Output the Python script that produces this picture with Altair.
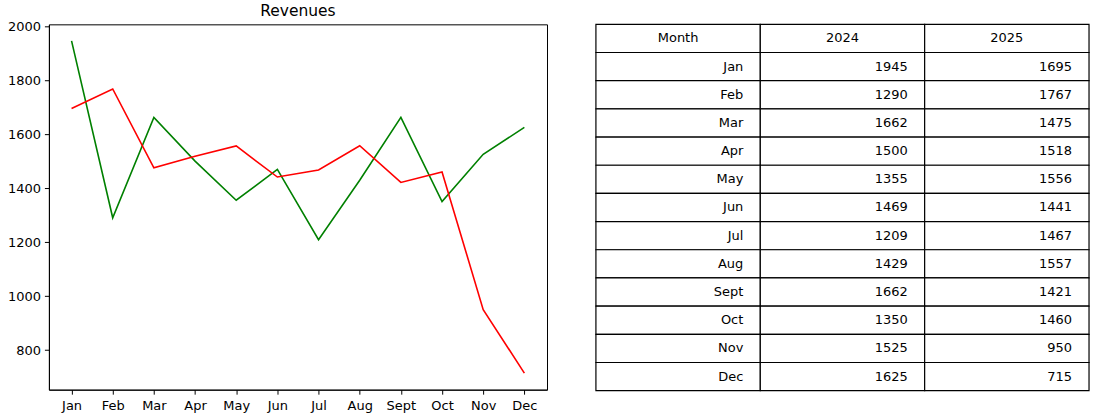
import altair as alt
import pandas as pd

months = ["Jan", "Feb", "Mar", "Apr", "May", "Jun", "Jul", "Aug", "Sept", "Oct", "Nov", "Dec"]
rev_2024 = [1945, 1290, 1662, 1500, 1355, 1469, 1209, 1429, 1662, 1350, 1525, 1625]
rev_2025 = [1695, 1767, 1475, 1518, 1556, 1441, 1467, 1557, 1421, 1460, 950, 715]
years = ["2024", "2025"]
headers = ["Month", "2024", "2025"]
series_colors = ["green", "red"]
y_ticks = [800, 1000, 1200, 1400, 1600, 1800, 2000]

FONT = "DejaVu Sans"

line_df = pd.DataFrame({
    "month": months * 2,
    "revenue": rev_2024 + rev_2025,
    "year": [years[0]] * 12 + [years[1]] * 12,
})

line = alt.Chart(line_df).mark_line(strokeWidth=1.6).encode(
    x=alt.X("month:N", sort=months,
            scale=alt.Scale(type="point", padding=0.55),
            axis=alt.Axis(title=None, labelAngle=0, labelFont=FONT, labelFontSize=13,
                          labelColor="black", tickColor="black", domainColor="black",
                          tickSize=4.5, labelPadding=5.5, grid=False)),
    y=alt.Y("revenue:Q",
            scale=alt.Scale(domain=[653.5, 2006.5], nice=False, zero=False),
            axis=alt.Axis(title=None, values=y_ticks, format="d", labelFont=FONT, labelFontSize=13,
                          labelColor="black", tickColor="black", domainColor="black",
                          tickSize=4.5, labelPadding=4, grid=False)),
    color=alt.Color("year:N", scale=alt.Scale(domain=years, range=series_colors), legend=None),
    order=alt.Order("year:N"),
).properties(
    width=499, height=366,
    title=alt.Title("Revenues", fontSize=15.5, fontWeight="normal", font=FONT, color="black", offset=1),
    view=alt.ViewBackground(stroke="black", strokeWidth=1),
)

# table data
rows = []
for r in range(13):
    if r == 0:
        cells = headers
    else:
        cells = [months[r - 1], str(rev_2024[r - 1]), str(rev_2025[r - 1])]
    for c, t in enumerate(cells):
        rows.append({"row": r, "col": c, "text": t, "x0": c, "x1": c + 1, "xm": c + 0.5,
                     "y0": r, "y1": r + 1, "ym": r + 0.5})
table_df = pd.DataFrame(rows)

xs = alt.Scale(domain=[0, 3], nice=False, zero=False)
ys = alt.Scale(domain=[0, 13], nice=False, zero=False, reverse=True)

tbase = alt.Chart(table_df)
rects = tbase.mark_rect(fill="white", stroke="black", strokeWidth=1.2).encode(
    x=alt.X("x0:Q", scale=xs, axis=None), x2="x1:Q",
    y=alt.Y("y0:Q", scale=ys, axis=None), y2="y1:Q",
)
header_text = tbase.transform_filter("datum.row == 0").mark_text(
    align="center", baseline="middle", font=FONT, fontSize=13, color="black"
).encode(x=alt.X("xm:Q", scale=xs, axis=None), y=alt.Y("ym:Q", scale=ys, axis=None), text="text:N")
body_text = tbase.transform_filter("datum.row > 0").mark_text(
    align="right", baseline="middle", dx=-17, font=FONT, fontSize=13, color="black"
).encode(x=alt.X("x1:Q", scale=xs, axis=None), y=alt.Y("ym:Q", scale=ys, axis=None), text="text:N")

table = alt.layer(rects, header_text, body_text).properties(
    width=494, height=367,
    view=alt.ViewBackground(stroke=None),
)

chart = alt.hconcat(line, table, spacing=49, bounds="flush").properties(
    padding={"left": 6, "top": 2, "right": 13, "bottom": 0},
).configure(background="white")

chart.save("out.html", embed_options={"renderer": "svg", "actions": False})
